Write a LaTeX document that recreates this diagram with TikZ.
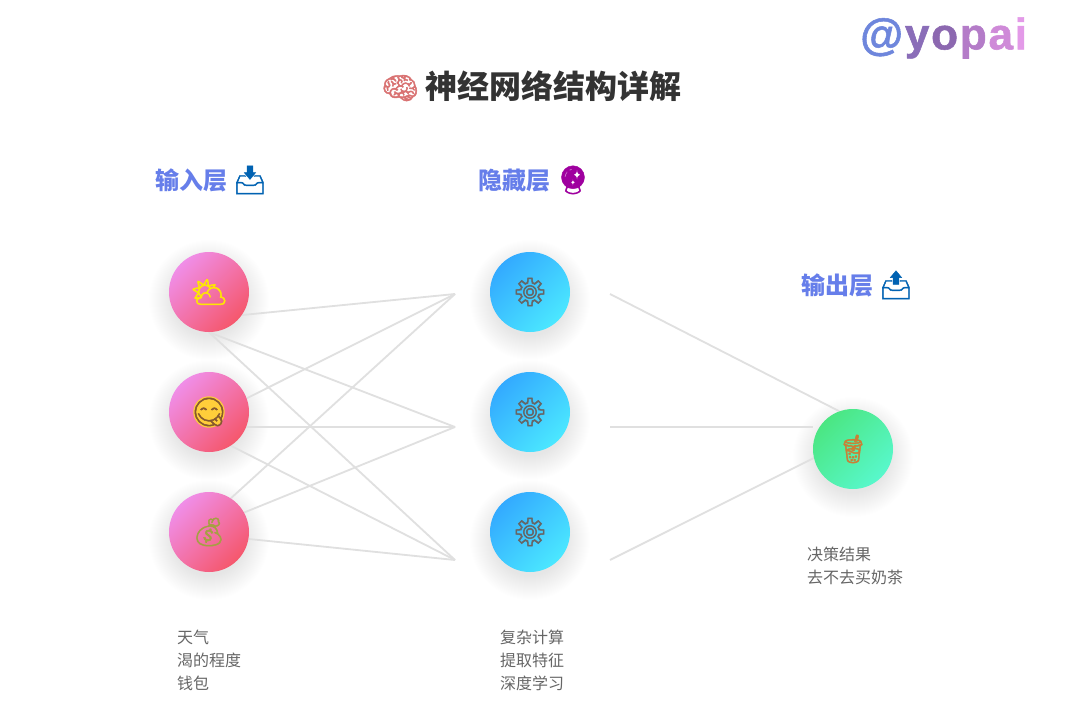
\documentclass[tikz,border=0pt]{standalone}
\usepackage{fontspec}
\setmainfont{Noto Sans CJK SC}
\newfontfamily\emojifont[FakeBold=1.6]{Noto Emoji}
\newfontfamily\handlefont[FakeBold=1.2]{Liberation Sans Bold}
\usetikzlibrary{backgrounds}
\definecolor{inkDark}{HTML}{333333}
\definecolor{inkSoft}{HTML}{666666}
\definecolor{layerBlue}{HTML}{667EEA}
\definecolor{wireGrey}{HTML}{E0E0E0}
\definecolor{pinkA}{HTML}{F08EE8}
\definecolor{pinkB}{HTML}{F5576C}
\definecolor{blueA}{HTML}{33AAFF}
\definecolor{blueB}{HTML}{4BE8FF}
\definecolor{greenA}{HTML}{4BE682}
\definecolor{greenB}{HTML}{58F8CC}
\definecolor{faceYellow}{HTML}{FFCE3A}
\tikzset{
  neuron/.style={circle, minimum size=80pt, inner sep=0pt, shading=axis, shading angle=45},
  inneuron/.style={neuron, top color=pinkA, bottom color=pinkB, shading angle=45},
  hidneuron/.style={neuron, top color=blueA, bottom color=blueB, shading angle=45},
  outneuron/.style={neuron, top color=greenA, bottom color=greenB, shading angle=45},
  layerhead/.style={anchor=west, inner sep=0pt, text=layerBlue, font=\fontsize{24}{24}\selectfont\bfseries},
  notes/.style={anchor=north west, inner sep=0pt, align=left, text=inkSoft, font=\fontsize{16}{22.7}\selectfont},
  icon/.style={text=#1, font=\emojifont\fontsize{28}{28}\selectfont},
  wire/.style={draw=wireGrey, line width=1.8pt},
  softshadow/.style={fill=black, fill opacity=0.0045, draw=none}
}
\begin{document}
\begin{tikzpicture}[x=1pt,y=-1pt]
\useasboundingbox (0,0) rectangle (1080,725);

\node[anchor=west, inner sep=0pt, text=inkDark, font=\fontsize{32}{32}\selectfont\bfseries] (title) at (381,86) {{\emojifont\color{pink!70!red!85!black}\fontsize{30}{30}\selectfont 🧠}\hspace{6pt}神经网络结构详解};

% handle, one colour per letter
\node[anchor=west, inner sep=0pt, font=\handlefont\fontsize{44}{44}\selectfont] (handle) at (860,38) {\textcolor[HTML]{6E86DC}{@}\hspace{1.8pt}\textcolor[HTML]{8A6DB8}{y}\hspace{1.8pt}\textcolor[HTML]{8C68B0}{o}\hspace{1.8pt}\textcolor[HTML]{B47CC8}{p}\hspace{1.8pt}\textcolor[HTML]{CF8AD8}{a}\hspace{1.8pt}\textcolor[HTML]{E39AE8}{i}};

\node[layerhead] (inhead) at (155,180) {输入层\hspace{5pt}{\emojifont\color{blue!45!cyan!70!black}\fontsize{28}{28}\selectfont 📥}};
\node[layerhead] (hidhead) at (478,180) {隐藏层\hspace{5pt}{\emojifont\color{violet!75!magenta}\fontsize{28}{28}\selectfont 🔮}};
\node[layerhead] (outhead) at (801,285) {输出层\hspace{5pt}{\emojifont\color{blue!45!cyan!70!black}\fontsize{28}{28}\selectfont 📤}};

\foreach \i/\y/\e/\c in {1/292/⛅/yellow!90!orange, 2/412/{}/black, 3/532/💰/yellow!60!black} {
  \node[inneuron, icon=\c] (in\i) at (209,\y) {\e};
  \node[hidneuron, icon=black!60] (hid\i) at (530,\y) {⚙};
}
\node[circle, fill=faceYellow, minimum size=28pt, inner sep=-5pt, icon=brown!70!black] (face) at (in2) {😋};
\node[outneuron, icon=brown!85!orange] (out) at (853,449) {🧋};

\coordinate (joinA) at (455,294);
\coordinate (joinB) at (455,427);
\coordinate (joinC) at (455,560);
\coordinate (tailA) at (610,294);
\coordinate (tailB) at (610,427);
\coordinate (tailC) at (610,560);

\begin{scope}[on background layer]
\fill[white] (0,0) rectangle (1080,725);
\foreach \x/\y in {209/292, 209/412, 209/532, 530/292, 530/412, 530/532, 853/449} {
  \foreach \r in {36,37,...,60} {
    \fill[softshadow] (\x,\y+8) circle (\r pt);
  }
}
\draw[wire] (in1.-35) -- (joinA);
\draw[wire] (in1.south) -- (joinB);
\draw[wire] (in1.south) -- (joinC);
\draw[wire] (in2.20) -- (joinA);
\draw[wire] (in2.-22) -- (joinB);
\draw[wire] (in2.-57) -- (joinC);
\draw[wire] (in3.57) -- (joinA);
\draw[wire] (in3.29) -- (joinB);
\draw[wire] (in3.-10) -- (joinC);
\draw[wire] (tailA) -- (out.110);
\draw[wire] (tailB) -- (out.west |- tailB);
\draw[wire] (tailC) -- (out.-167);
\end{scope}

\node[notes] (innote) at (177,630) {天气\\渴的程度\\钱包};
\node[notes] (hidnote) at (500,630) {复杂计算\\提取特征\\深度学习};
\node[notes] (outnote) at (807,547) {决策结果\\去不去买奶茶};
\end{tikzpicture}
\end{document}
